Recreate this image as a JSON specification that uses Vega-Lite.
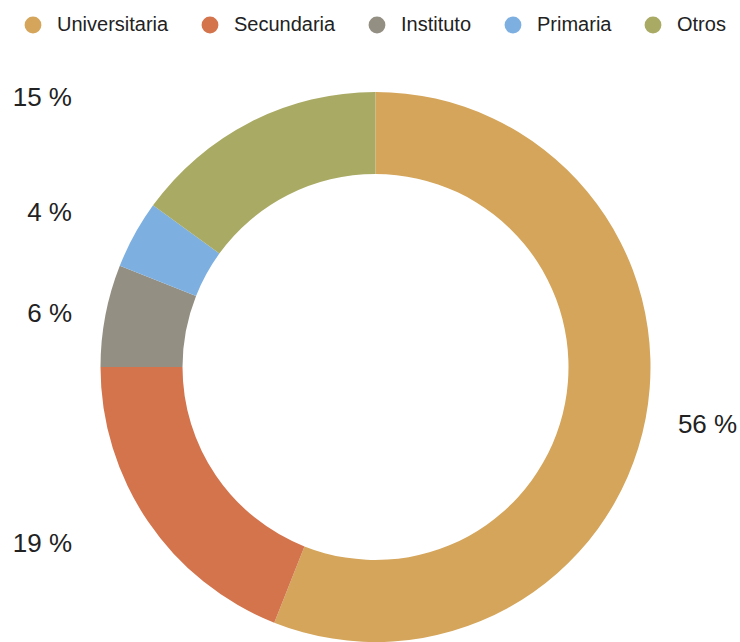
{
  "$schema": "https://vega.github.io/schema/vega-lite/v6.json",
  "autosize": "none",
  "padding": 0,
  "width": 751,
  "height": 734,
  "background": "white",
  "data": {
    "values": [
      {"nivel": "Universitaria", "pct": 56, "orden": 1},
      {"nivel": "Secundaria", "pct": 19, "orden": 2},
      {"nivel": "Instituto", "pct": 6, "orden": 3},
      {"nivel": "Primaria", "pct": 4, "orden": 4},
      {"nivel": "Otros", "pct": 15, "orden": 5}
    ]
  },
  "transform": [
    {"stack": "pct", "groupby": [], "sort": [{"field": "orden", "order": "ascending"}], "as": ["t0", "t1"]},
    {"calculate": "(datum.t0 + datum.t1) / 2", "as": "tmid"},
    {"calculate": "datum.pct + ' %'", "as": "etiqueta"}
  ],
  "resolve": {"scale": {"theta": "shared"}},
  "layer": [
    {
      "mark": {"type": "arc", "outerRadius": 275, "innerRadius": 193},
      "encoding": {
        "theta": {"field": "t0", "type": "quantitative", "stack": null, "scale": {"domain": [0, 100]}},
        "theta2": {"field": "t1"},
        "color": {
          "field": "nivel",
          "type": "nominal",
          "scale": {
            "domain": ["Universitaria", "Secundaria", "Instituto", "Primaria", "Otros"],
            "range": ["#D4A55A", "#D3744D", "#948F83", "#7DB0E1", "#A9AA64"]
          },
          "legend": {
            "title": null,
            "orient": "none",
            "direction": "horizontal",
            "columns": 5,
            "legendX": 23,
            "legendY": 15,
            "padding": 0,
            "symbolType": "circle",
            "symbolSize": 283,
            "symbolStrokeWidth": 0,
            "symbolOpacity": 1,
            "labelFont": "Liberation Sans",
            "labelFontSize": 20,
            "labelColor": "#222222",
            "labelOffset": 14,
            "columnPadding": 31,
            "labelLimit": 300
          }
        }
      }
    },
    {
      "transform": [{"filter": "datum.nivel === 'Universitaria'"}],
      "mark": {"type": "text", "radius": 338, "dy": -5, "align": "center", "baseline": "middle", "font": "Liberation Sans", "fontSize": 26, "color": "#222222"},
      "encoding": {"theta": {"field": "tmid", "type": "quantitative", "stack": null, "scale": {"domain": [0, 100]}}, "text": {"field": "etiqueta"}}
    },
    {
      "transform": [{"filter": "datum.nivel === 'Secundaria'"}],
      "mark": {"type": "text", "radius": 336, "dx": -25.6, "dy": -11.9, "align": "right", "baseline": "middle", "font": "Liberation Sans", "fontSize": 26, "color": "#222222"},
      "encoding": {"theta": {"field": "tmid", "type": "quantitative", "stack": null, "scale": {"domain": [0, 100]}}, "text": {"field": "etiqueta"}}
    },
    {
      "transform": [{"filter": "datum.nivel === 'Instituto'"}],
      "mark": {"type": "text", "radius": 336, "dx": 26.6, "dy": 9.5, "align": "right", "baseline": "middle", "font": "Liberation Sans", "fontSize": 26, "color": "#222222"},
      "encoding": {"theta": {"field": "tmid", "type": "quantitative", "stack": null, "scale": {"domain": [0, 100]}}, "text": {"field": "etiqueta"}}
    },
    {
      "transform": [{"filter": "datum.nivel === 'Primaria'"}],
      "mark": {"type": "text", "radius": 336, "dx": -9.1, "dy": 7.4, "align": "right", "baseline": "middle", "font": "Liberation Sans", "fontSize": 26, "color": "#222222"},
      "encoding": {"theta": {"field": "tmid", "type": "quantitative", "stack": null, "scale": {"domain": [0, 100]}}, "text": {"field": "etiqueta"}}
    },
    {
      "transform": [{"filter": "datum.nivel === 'Otros'"}],
      "mark": {"type": "text", "radius": 336, "dx": -151, "dy": 30, "align": "right", "baseline": "middle", "font": "Liberation Sans", "fontSize": 26, "color": "#222222"},
      "encoding": {"theta": {"field": "tmid", "type": "quantitative", "stack": null, "scale": {"domain": [0, 100]}}, "text": {"field": "etiqueta"}}
    }
  ],
  "config": {"view": {"stroke": null}}
}
